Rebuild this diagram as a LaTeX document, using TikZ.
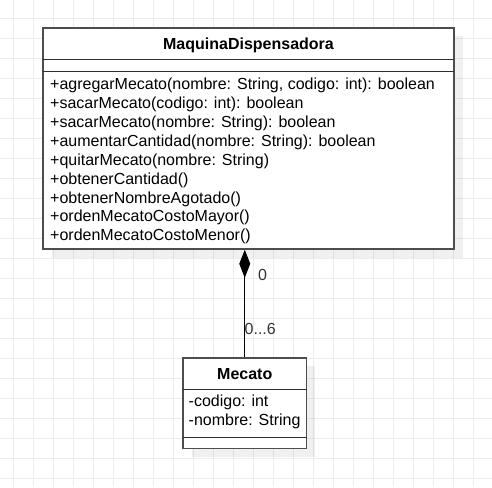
\documentclass[tikz,border=0pt]{standalone}
\usepackage{fontspec}
\setmainfont{Liberation Sans}
\usetikzlibrary{arrows.meta}
\definecolor{boxline}{RGB}{77,77,77}
\definecolor{gridc}{RGB}{236,236,236}
\begin{document}
\begin{tikzpicture}[x=1pt,y=-1pt,
  classbox/.style={draw=boxline, line width=1.6pt, fill=white, inner sep=0pt},
  shadowbox/.style={fill=black, fill opacity=0.06, draw=none},
  divider/.style={draw=boxline!60!black, line width=1pt},
  txt/.style={anchor=base west, inner sep=0pt, font=\fontsize{16}{19}\selectfont},
  ttl/.style={anchor=base, inner sep=0pt, font=\fontsize{16}{19}\selectfont\bfseries},
  lbl/.style={txt, text=black!80},
  comp/.style={draw=black, line width=1pt, {Diamond[length=28pt,width=11pt]}-}
]
\useasboundingbox (0,0) rectangle (492,487);
\fill[white] (0,0) rectangle (492,487);
\foreach \i in {0,...,23} \draw[gridc, line width=1pt] ({13.3+20*\i},0) -- ({13.3+20*\i},487);
\foreach \i in {0,...,23} \draw[gridc, line width=1pt] (0,{18.3+20*\i}) -- (492,{18.3+20*\i});

% MaquinaDispensadora
\fill[shadowbox] (51.5,36.5) rectangle (462.5,257.5);
\node[classbox, minimum width=411pt, minimum height=221pt] (main) at (248.5,138.5) {};
\draw[divider] (43,59.5) -- (454,59.5);
\draw[divider] (43,71) -- (454,71);
\node[ttl] (mtitle) at (248.5,49.3) {MaquinaDispensadora};
\node[txt] (m1) at (50,89) {+agregarMecato(nombre: String, codigo: int): boolean};
\node[txt] (m2) at (50,108) {+sacarMecato(codigo: int): boolean};
\node[txt] (m3) at (50,127) {+sacarMecato(nombre: String): boolean};
\node[txt] (m4) at (50,146) {+aumentarCantidad(nombre: String): boolean};
\node[txt] (m5) at (50,165) {+quitarMecato(nombre: String)};
\node[txt] (m6) at (50,184) {+obtenerCantidad()};
\node[txt] (m7) at (50,203) {+obtenerNombreAgotado()};
\node[txt] (m8) at (50,221.5) {+ordenMecatoCostoMayor()};
\node[txt] (m9) at (50,240.3) {+ordenMecatoCostoMenor()};

% Mecato
\fill[shadowbox] (191.5,366.2) rectangle (315,456.8);
\node[classbox, minimum width=123.5pt, minimum height=90.6pt] (mecato) at (244.75,403) {};
\draw[divider] (183,389.3) -- (306.5,389.3);
\draw[divider] (183,437.3) -- (306.5,437.3);
\node[ttl] (ctitle) at (244.75,379) {Mecato};
\node[txt] (a1) at (188.5,406.7) {-codigo: int};
\node[txt] (a2) at (188.5,425.7) {-nombre: String};

% composition
\draw[comp] (main.south -| mecato.north) -- (mecato.north);
\node[lbl] (l0) at (258,280) {0};
\node[lbl] (l6) at (244.5,334.3) {0...6};
\end{tikzpicture}
\end{document}
